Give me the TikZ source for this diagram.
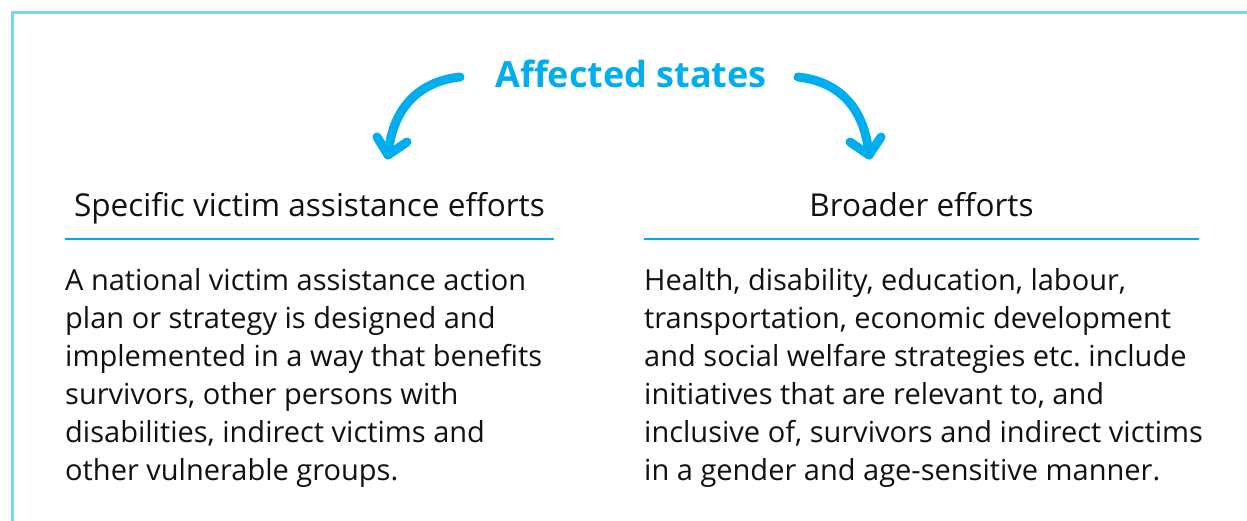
\documentclass[tikz,border=0pt]{standalone}
\usepackage{fontspec}
\setmainfont{Open Sans}
\frenchspacing
\definecolor{cyanA}{HTML}{00AEEF}
\definecolor{frameC}{HTML}{7FD3F7}
\definecolor{txt}{HTML}{111111}
\begin{document}
\begin{tikzpicture}[x=1pt,y=-1pt,
  bodytext/.style={anchor=base west,inner sep=0pt,text=txt,font=\fontsize{29}{38}\selectfont},
  headtext/.style={anchor=base,inner sep=0pt,text=txt,font=\fontsize{31.5}{36}\selectfont},
  rule/.style={draw=cyanA,line width=2.2pt},
  bigarrow/.style={draw=cyanA,line width=9pt,line cap=round,line join=round}]
\useasboundingbox (0,0) rectangle (1247,520);
\fill[white] (0,0) rectangle (1247,520);
\draw[frameC,line width=2.6pt] (12.5,525) -- (12.5,12.5) -- (1252,12.5);
% title
\node[anchor=base,inner sep=0pt,text=cyanA,font=\fontsize{36}{40}\selectfont\bfseries] (title) at (631,87) {Affected states};
% headings
\node[headtext] (hl) at (309.5,216) {Specific victim assistance efforts};
\node[headtext] (hr) at (921.5,216) {Broader efforts};
\coordinate (l1) at (65,239); \coordinate (l2) at (554,239);
\coordinate (r1) at (644,239); \coordinate (r2) at (1199,239);
\draw[rule] (l1) -- (l2);
\draw[rule] (r1) -- (r2);
% arrows
\coordinate (as) at (460,77); \coordinate (at) at (388,155);
\coordinate (bs) at (798,77); \coordinate (bt) at (869,155);
\draw[bigarrow] (as) .. controls (415,82) and (392,112) .. (at);
\draw[bigarrow] (377,137) -- (at) -- (407,142);
\draw[bigarrow] (bs) .. controls (843,82) and (865,112) .. (bt);
\draw[bigarrow] (850,142) -- (bt) -- (881,137);
% body
\node[bodytext] (bl) at (65,290) {\vtop{\baselineskip=38pt
  \hbox{A national victim assistance action}
  \hbox{plan or strategy is designed and}
  \hbox{implemented in a way that benefits}
  \hbox{survivors, other persons with}
  \hbox{disabilities, indirect victims and}
  \hbox{other vulnerable groups.}}};
\node[bodytext] (br) at (644,290) {\vtop{\baselineskip=38pt
  \hbox{Health, disability, education, labour,}
  \hbox{transportation, economic development}
  \hbox{and social welfare strategies etc. include}
  \hbox{initiatives that are relevant to, and}
  \hbox{inclusive of, survivors and indirect victims}
  \hbox{in a gender and age-sensitive manner.}}};
\end{tikzpicture}
\end{document}
